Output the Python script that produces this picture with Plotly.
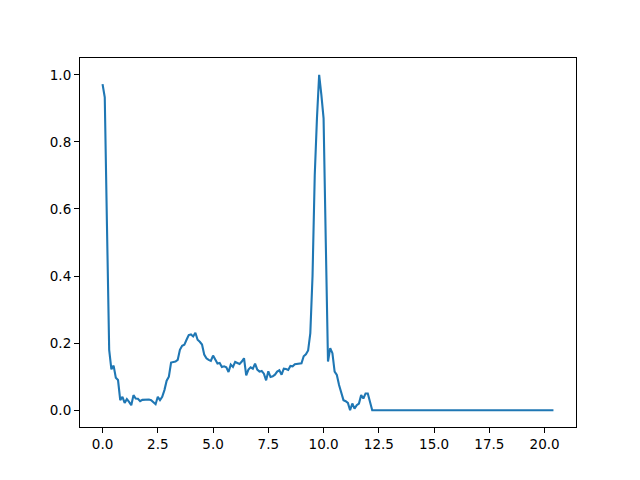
import numpy as np
import plotly.graph_objects as go

# sampled every 0.1 from 0 to 20.4
step = 0.1

# normalised to the peak at 9.8
values = [
    0.972, 0.933, 0.55, 0.18, 0.122, 0.133, 0.097, 0.09, 0.03, 0.04,
    0.022, 0.033, 0.025, 0.015, 0.045, 0.035, 0.034, 0.027, 0.031, 0.032,
    0.032, 0.032, 0.03, 0.024, 0.018, 0.04, 0.03, 0.04, 0.06, 0.088,
    0.10, 0.142, 0.144, 0.145, 0.15, 0.18, 0.192, 0.195, 0.21, 0.224,
    0.226, 0.22, 0.231, 0.21, 0.204, 0.196, 0.166, 0.155, 0.15, 0.147,
    0.163, 0.149, 0.139, 0.141, 0.129, 0.131, 0.128, 0.114, 0.136, 0.129,
    0.144, 0.141, 0.138, 0.145, 0.155, 0.104, 0.121, 0.128, 0.124, 0.139,
    0.121, 0.115, 0.117, 0.109, 0.089, 0.116, 0.099, 0.101, 0.106, 0.115,
    0.119, 0.106, 0.124, 0.123, 0.12, 0.132, 0.131, 0.137, 0.138, 0.137,
    0.14, 0.161, 0.167, 0.178, 0.23, 0.40, 0.70, 0.87, 1.0, 0.94,
    0.87, 0.50, 0.145, 0.185, 0.17, 0.115, 0.105, 0.075, 0.05, 0.03,
    0.027, 0.022, 0.0, 0.02, 0.005, 0.015, 0.02, 0.045, 0.035, 0.05,
    0.05, 0.022,
] + [0.0] * 83

x_ticks = [0, 2.5, 5, 7.5, 10, 12.5, 15, 17.5, 20]
y_ticks = [0, 0.2, 0.4, 0.6, 0.8, 1.0]

x = np.arange(len(values)) * step
x_max = x[-1]

fig = go.Figure()
fig.add_trace(
    go.Scatter(
        x=x,
        y=values,
        mode="lines",
        line=dict(color="#1f77b4", width=2.1),
        showlegend=False,
    )
)

axis_style = dict(
    showgrid=False,
    zeroline=False,
    showline=True,
    mirror=True,
    linecolor="black",
    linewidth=1.1,
    ticks="outside",
    ticklen=5,
    tickwidth=1.1,
    tickcolor="black",
    tickformat=".1f",
    tickfont=dict(family="DejaVu Sans", size=13.5, color="black"),
)

# the page body has an 8px margin, so the figure is a bit smaller than the window
fig.update_layout(
    width=624,
    height=464,
    margin=dict(l=72, r=56, t=50, b=45),
    paper_bgcolor="white",
    plot_bgcolor="white",
    xaxis=dict(range=[-0.05 * x_max, 1.05 * x_max], tickvals=x_ticks, **axis_style),
    yaxis=dict(range=[-0.05, 1.05], tickvals=y_ticks, **axis_style),
)

fig.write_html("out.html")
